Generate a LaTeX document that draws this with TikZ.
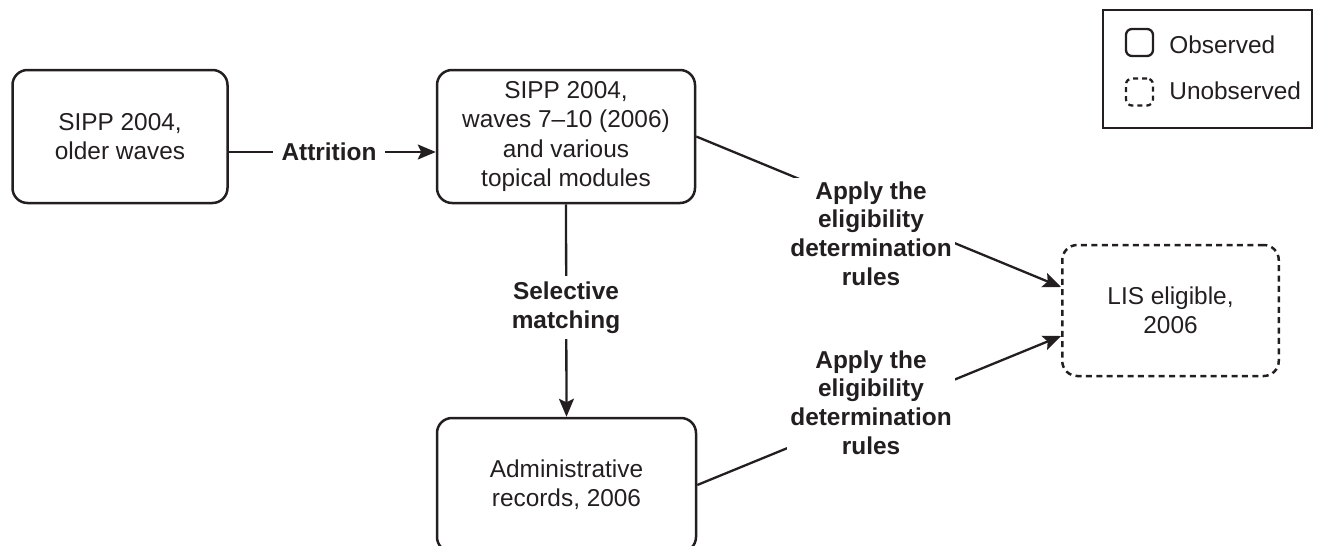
\documentclass[tikz,border=0pt]{standalone}
\usepackage{fontspec}
\setmainfont{Liberation Sans}
\usetikzlibrary{arrows.meta}
\definecolor{ink}{RGB}{35,31,32}
\begin{document}
\begin{tikzpicture}[x=0.5pt,y=-0.5pt,
  every node/.style={text=ink},
  box/.style={draw=ink, line width=1.25pt, rounded corners=7.5pt, align=center, inner sep=0pt, font=\fontsize{12.2}{14.6}\selectfont},
  dbox/.style={box, dash pattern=on 3pt off 2.2pt},
  lbl/.style={font=\fontsize{12.2}{14.4}\selectfont\bfseries, align=center, fill=white, inner sep=1.5pt},
  legtext/.style={font=\fontsize{12.2}{14.6}\selectfont, anchor=west, inner sep=0pt},
  arr/.style={draw=ink, line width=1.15pt, -{Stealth[length=9pt,width=7.5pt,inset=1.8pt]}},
]
\useasboundingbox (0,0) rectangle (1317,546);
% boxes
\node[box, minimum width=107.5pt, minimum height=66.5pt] (b1) at (120,136.5) {SIPP 2004,\\older waves};
\node[box, minimum width=129pt, minimum height=66.5pt] (b2) at (566,136.5) {SIPP 2004,\\waves 7--10 (2006)\\and various\\topical modules};
\node[box, minimum width=129.5pt, minimum height=67pt] (b3) at (566.5,485) {Administrative\\records, 2006};
\node[dbox, minimum width=108.25pt, minimum height=65.5pt] (b4) at (1170.5,310.5) {LIS eligible,\\2006};
% connectors
\draw[arr] ([yshift=-7.75pt]b1.east) -- ([yshift=-7.75pt]b2.west);
\draw[arr] (b2.south) -- (b3.north);
\draw[arr] (b2.east) -- ([yshift=11.75pt]b4.west);
\draw[arr] (b3.east) -- ([yshift=-12.75pt]b4.west);
% labels
\node[lbl, inner xsep=4.5pt] (lattr) at (329,152) {Attrition};
\node[lbl, inner sep=3pt] (lsel) at (566,307.5) {Selective\\matching};
\node[lbl] (lapp1) at (871,233.5) {Apply the\\eligibility\\determination\\rules};
\node[lbl] (lapp2) at (871,402.5) {Apply the\\eligibility\\determination\\rules};
% legend
\node[draw=ink, line width=1.25pt, minimum width=104.5pt, minimum height=59pt, inner sep=0pt] (leg) at (1207.5,69) {};
\node[draw=ink, line width=1.15pt, rounded corners=3pt, minimum size=13.5pt, inner sep=0pt] (lobs) at (1139.5,42.5) {};
\node[draw=ink, line width=1.15pt, rounded corners=3pt, dash pattern=on 2.5pt off 2pt, minimum size=13.5pt, inner sep=0pt] (lunobs) at (1139.5,92) {};
\node[legtext] (tobs) at (1169,45) {Observed};
\node[legtext] (tunobs) at (1169,91) {Unobserved};
\end{tikzpicture}
\end{document}
